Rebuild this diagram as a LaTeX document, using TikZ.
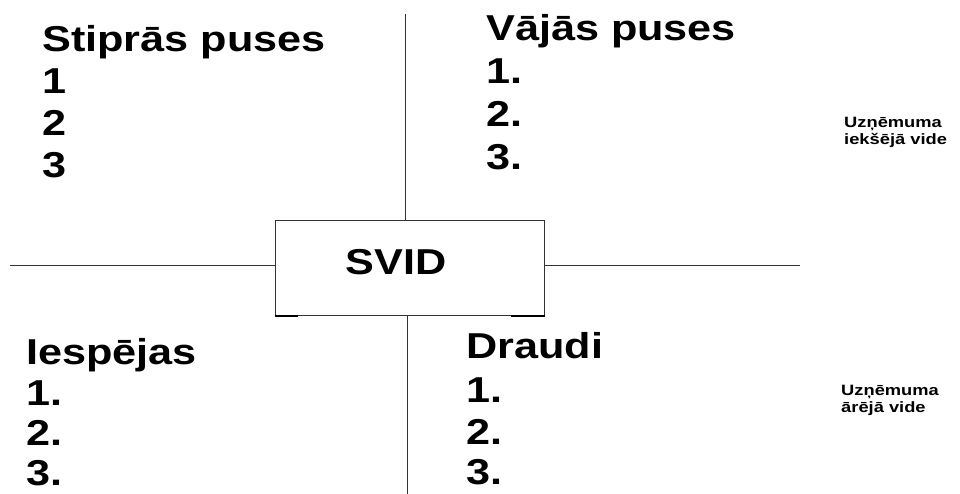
\documentclass[tikz,border=0pt]{standalone}
\usepackage{fontspec}
\setmainfont{Liberation Sans}
\newfontfamily\wf[FakeStretch=1.2]{Liberation Sans}
\newfontfamily\wfs[FakeStretch=1.22]{Liberation Sans}
\tikzset{
  big/.style={font=\wf\bfseries\fontsize{36}{40}\selectfont, inner sep=0pt, anchor=base west},
  small/.style={font=\wfs\bfseries\fontsize{15}{17}\selectfont, inner sep=0pt, anchor=base west},
  ln/.style={draw=black!80, line width=1pt},
  boxst/.style={draw=black!80, line width=1pt, minimum width=269pt, minimum height=94pt, inner sep=0pt},
  stub/.style={draw=black, line width=2pt}
}
\begin{document}
\begin{tikzpicture}[x=1pt,y=-1pt]
\useasboundingbox (0,0) rectangle (960,494);
\fill[white] (0,0) rectangle (960,494);
% central box
\node[boxst] (svid) at (409.5,268) {};
\node[big, anchor=base] (svidt) at (396,274) {SVID};
\draw[stub] (svid.south west) -- ++(23,0);
\draw[stub] (svid.south east) -- ++(-34,0);
% axes
\coordinate (top) at (405,14);
\coordinate (bot) at (407,494);
\coordinate (lft) at (10,265);
\coordinate (rgt) at (800,265);
\draw[ln] (top) -- (svid.north -| top);
\draw[ln] (svid.south -| bot) -- (bot);
\draw[ln] (lft) -- (lft -| svid.west);
\draw[ln] (svid.east |- rgt) -- (rgt);
% Stiprās puses
\node[big] (s0) at (42,52) {Stiprās puses};
\node[big] (s1) at (42,94) {1};
\node[big] (s2) at (42,136) {2};
\node[big] (s3) at (42,178) {3};
% Vājās puses
\node[big] (v0) at (486,41) {Vājās puses};
\node[big] (v1) at (486,84) {1.};
\node[big] (v2) at (486,127) {2.};
\node[big] (v3) at (486,170) {3.};
% Iespējas
\node[big] (i0) at (26,364) {Iespējas};
\node[big] (i1) at (26,405) {1.};
\node[big] (i2) at (26,445) {2.};
\node[big] (i3) at (26,485) {3.};
% Draudi
\node[big] (d0) at (466,358) {Draudi};
\node[big] (d1) at (466,402) {1.};
\node[big] (d2) at (466,444) {2.};
\node[big] (d3) at (466,484) {3.};
% side labels
\node[small] (ui1) at (844,128) {Uzņēmuma};
\node[small] (ui2) at (844,145) {iekšējā vide};
\node[small] (ua1) at (841,395) {Uzņēmuma};
\node[small] (ua2) at (841,412) {ārējā vide};
\end{tikzpicture}
\end{document}
